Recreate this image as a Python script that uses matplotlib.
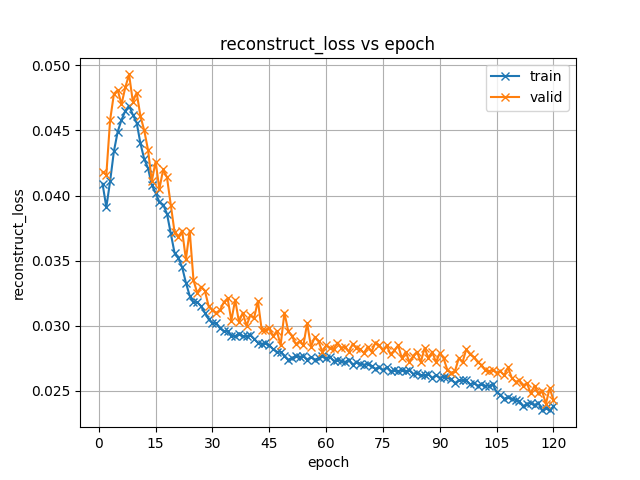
import matplotlib
matplotlib.use('Agg')
import matplotlib.pyplot as plt

epochs = list(range(1, 121))

train_loss = [
    0.0409, 0.0391, 0.0411, 0.0434, 0.0449, 0.0458, 0.0465, 0.0469, 0.0462, 0.0456,
    0.0440, 0.0428, 0.0421, 0.0408, 0.0402, 0.0395, 0.0393, 0.0386, 0.0371, 0.0356,
    0.0352, 0.0345, 0.0333, 0.0323, 0.0318, 0.0318, 0.0315, 0.0310, 0.0305, 0.0302,
    0.0302, 0.0298, 0.0296, 0.0296, 0.0292, 0.0292, 0.0294, 0.0292, 0.0292, 0.0293,
    0.0290, 0.0287, 0.0286, 0.0287, 0.0285, 0.0282, 0.0280, 0.0280, 0.0277, 0.0274,
    0.0275, 0.0277, 0.0276, 0.0277, 0.0274, 0.0276, 0.0274, 0.0275, 0.0277, 0.0275,
    0.0276, 0.0273, 0.0274, 0.0273, 0.0272, 0.0274, 0.0270, 0.0272, 0.0271, 0.0270,
    0.0271, 0.0269, 0.0267, 0.0268, 0.0266, 0.0268, 0.0265, 0.0266, 0.0265, 0.0266,
    0.0265, 0.0266, 0.0263, 0.0264, 0.0262, 0.0262, 0.0263, 0.0260, 0.0262, 0.0260,
    0.0261, 0.0261, 0.0259, 0.0256, 0.0258, 0.0258, 0.0258, 0.0255, 0.0256, 0.0254,
    0.0255, 0.0254, 0.0254, 0.0255, 0.0249, 0.0247, 0.0244, 0.0245, 0.0244, 0.0243,
    0.0242, 0.0238, 0.0240, 0.0241, 0.0239, 0.0241, 0.0235, 0.0237, 0.0235, 0.0238,
]

valid_loss = [
    0.0418, 0.0416, 0.0458, 0.0478, 0.0481, 0.0470, 0.0483, 0.0493, 0.0472, 0.0479,
    0.0461, 0.0450, 0.0435, 0.0411, 0.0426, 0.0405, 0.0420, 0.0414, 0.0393, 0.0372,
    0.0368, 0.0373, 0.0351, 0.0373, 0.0335, 0.0325, 0.0330, 0.0327, 0.0315, 0.0312,
    0.0310, 0.0312, 0.0318, 0.0321, 0.0304, 0.0320, 0.0303, 0.0310, 0.0300, 0.0308,
    0.0306, 0.0319, 0.0297, 0.0297, 0.0298, 0.0292, 0.0296, 0.0285, 0.0310, 0.0296,
    0.0292, 0.0286, 0.0288, 0.0285, 0.0302, 0.0284, 0.0291, 0.0288, 0.0280, 0.0285,
    0.0283, 0.0282, 0.0287, 0.0283, 0.0284, 0.0280, 0.0286, 0.0283, 0.0282, 0.0279,
    0.0284, 0.0280, 0.0287, 0.0285, 0.0281, 0.0285, 0.0278, 0.0281, 0.0285, 0.0275,
    0.0280, 0.0272, 0.0277, 0.0280, 0.0272, 0.0283, 0.0275, 0.0280, 0.0272, 0.0279,
    0.0275, 0.0266, 0.0264, 0.0265, 0.0275, 0.0272, 0.0282, 0.0278, 0.0276, 0.0272,
    0.0270, 0.0266, 0.0265, 0.0266, 0.0264, 0.0265, 0.0262, 0.0268, 0.0260, 0.0257,
    0.0258, 0.0254, 0.0256, 0.0248, 0.0254, 0.0248, 0.0250, 0.0240, 0.0252, 0.0243,
]

xticks = list(range(0, 121, 15))

# Plot both curves with x markers
fig, ax = plt.subplots(figsize=(6.4, 4.8), dpi=100)
ax.plot(epochs, train_loss, marker='x', label='train')
ax.plot(epochs, valid_loss, marker='x', label='valid')
ax.set_xticks(xticks)
ax.set_title('reconstruct_loss vs epoch')
ax.set_xlabel('epoch')
ax.set_ylabel('reconstruct_loss')
ax.grid(True)
ax.legend(loc='upper right')

plt.savefig('out.png')
